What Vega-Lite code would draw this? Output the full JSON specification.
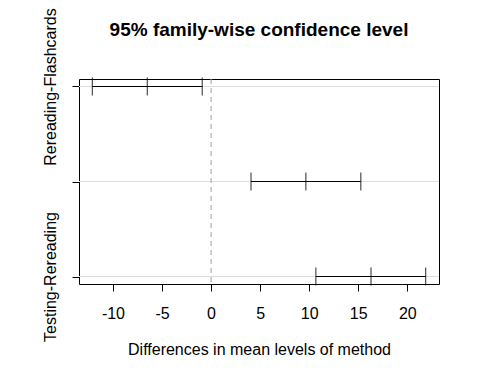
{
  "$schema": "https://vega.github.io/schema/vega-lite/v6.json",
  "width": 360,
  "height": 205,
  "autosize": "none",
  "padding": {"left": 79, "top": 79, "right": 41, "bottom": 100},
  "background": "white",
  "config": {
    "font": "Liberation Sans",
    "view": {"stroke": "black", "strokeWidth": 1}
  },
  "title": {
    "text": "95% family-wise confidence level",
    "font": "Liberation Sans",
    "fontSize": 19,
    "fontWeight": "bold",
    "color": "black",
    "anchor": "middle",
    "offset": 0,
    "dy": 32
  },
  "data": {
    "values": [
      {"comparison": "Rereading-Flashcards", "diff": -6.5, "lwr": -12.1, "upr": -0.9},
      {"comparison": "Testing-Flashcards", "diff": 9.66, "lwr": 4.07, "upr": 15.26},
      {"comparison": "Testing-Rereading", "diff": 16.3, "lwr": 10.68, "upr": 21.87}
    ]
  },
  "layer": [
    {
      "mark": {"type": "rule", "color": "#dddddd", "strokeWidth": 1},
      "encoding": {
        "y": {
          "field": "comparison", "type": "ordinal", "sort": null,
          "scale": {"type": "point", "padding": 0.078947368},
          "axis": {
            "title": null,
            "domain": false,
            "grid": false,
            "tickColor": "black",
            "tickSize": 7,
            "labelAngle": 270,
            "labelAlign": "center",
            "labelBaseline": "bottom",
            "labelPadding": 14,
            "labelFontSize": 16,
            "labelColor": "black",
            "labelOverlap": "greedy",
            "labelFont": "Liberation Sans"
          }
        },
        "x": {"datum": -13.46},
        "x2": {"datum": 23.23}
      }
    },
    {
      "data": {"values": [{"ref": 0}]},
      "mark": {"type": "rule", "color": "#a0a0a0", "strokeDash": [5, 4], "strokeWidth": 1},
      "encoding": {
        "x": {"field": "ref", "type": "quantitative"}
      }
    },
    {
      "mark": {"type": "rule", "color": "black", "strokeWidth": 1},
      "encoding": {
        "y": {"field": "comparison", "type": "ordinal", "sort": null},
        "x": {
          "field": "lwr", "type": "quantitative",
          "scale": {"domain": [-13.46, 23.23], "nice": false, "zero": false},
          "axis": {
            "title": "Differences in mean levels of method",
            "titleFontSize": 16,
            "titleFontWeight": "normal",
            "titleColor": "black",
            "titlePadding": 20,
            "titleFont": "Liberation Sans",
            "values": [-10, -5, 0, 5, 10, 15, 20],
            "labelExpr": "replace(datum.label, '−', '-')",
            "domain": false,
            "grid": false,
            "tickColor": "black",
            "tickSize": 7,
            "labelFontSize": 16,
            "labelColor": "black",
            "labelPadding": 14,
            "labelFont": "Liberation Sans"
          }
        },
        "x2": {"field": "upr"}
      }
    },
    {
      "transform": [{"fold": ["lwr", "diff", "upr"], "as": ["stat", "value"]}],
      "mark": {"type": "tick", "orient": "vertical", "size": 18, "thickness": 1.2, "color": "black"},
      "encoding": {
        "y": {"field": "comparison", "type": "ordinal", "sort": null},
        "x": {"field": "value", "type": "quantitative"}
      }
    }
  ]
}
